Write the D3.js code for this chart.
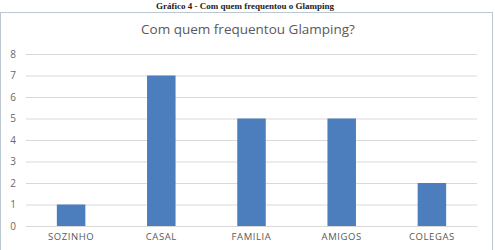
<!DOCTYPE html>
<html><head><meta charset="utf-8">
<script src="https://cdn.jsdelivr.net/npm/d3@7"></script>
<style>body{margin:0;background:#fff;}svg{display:block;}</style>
</head><body>
<svg id="c" width="495" height="250"></svg>
<script>
const categories = ["SOZINHO","CASAL","FAMILIA","AMIGOS","COLEGAS"];
const values = [1,7,5,5,2];
const yTicks = [0,1,2,3,4,5,6,7,8];
const title = "Com quem frequentou Glamping?";
const caption = "Gráfico 4 - Com quem frequentou o Glamping";

const svg = d3.select("#c");
svg.append("text").attr("x",245).attr("y",9).attr("text-anchor","middle")
  .attr("font-family","Liberation Serif").attr("font-weight","bold").attr("font-size",9)
  .attr("fill","#222").text(caption);
svg.append("rect").attr("x",0.5).attr("y",12.5).attr("width",492).attr("height",250)
  .attr("fill","#fff").attr("stroke","#bcc7d4");
svg.append("text").attr("x",248).attr("y",34).attr("text-anchor","middle")
  .attr("font-family","Open Sans").attr("font-size",13.5).attr("fill","#595959").text(title);

const x = d3.scaleBand().domain(categories).range([26,477]).paddingInner(0.684).paddingOuter(0.342);
const y = d3.scaleLinear().domain([0,8]).range([226,54]);

const gy = svg.append("g").attr("transform","translate(26,0)")
  .call(d3.axisLeft(y).tickValues(yTicks).tickSize(-451).tickPadding(10));
gy.select(".domain").remove();
gy.selectAll(".tick line").attr("stroke","#d9d9d9");
gy.selectAll(".tick text").attr("font-family","Open Sans").attr("font-size",10).attr("fill","#6a6a6a");

svg.selectAll("rect.bar").data(values).join("rect").attr("class","bar")
  .attr("x",(d,i)=>x(categories[i])).attr("width",x.bandwidth())
  .attr("y",d=>y(d)).attr("height",d=>y(0)-y(d)).attr("fill","#4c7ebd");

const gx = svg.append("g").attr("transform","translate(0,226)")
  .call(d3.axisBottom(x).tickSize(0).tickPadding(7));
gx.select(".domain").attr("stroke","#d9d9d9");
gx.selectAll(".tick text").attr("font-family","Open Sans").attr("font-size",9.5)
  .attr("letter-spacing","0.6px").attr("fill","#595959");
</script>
</body></html>
